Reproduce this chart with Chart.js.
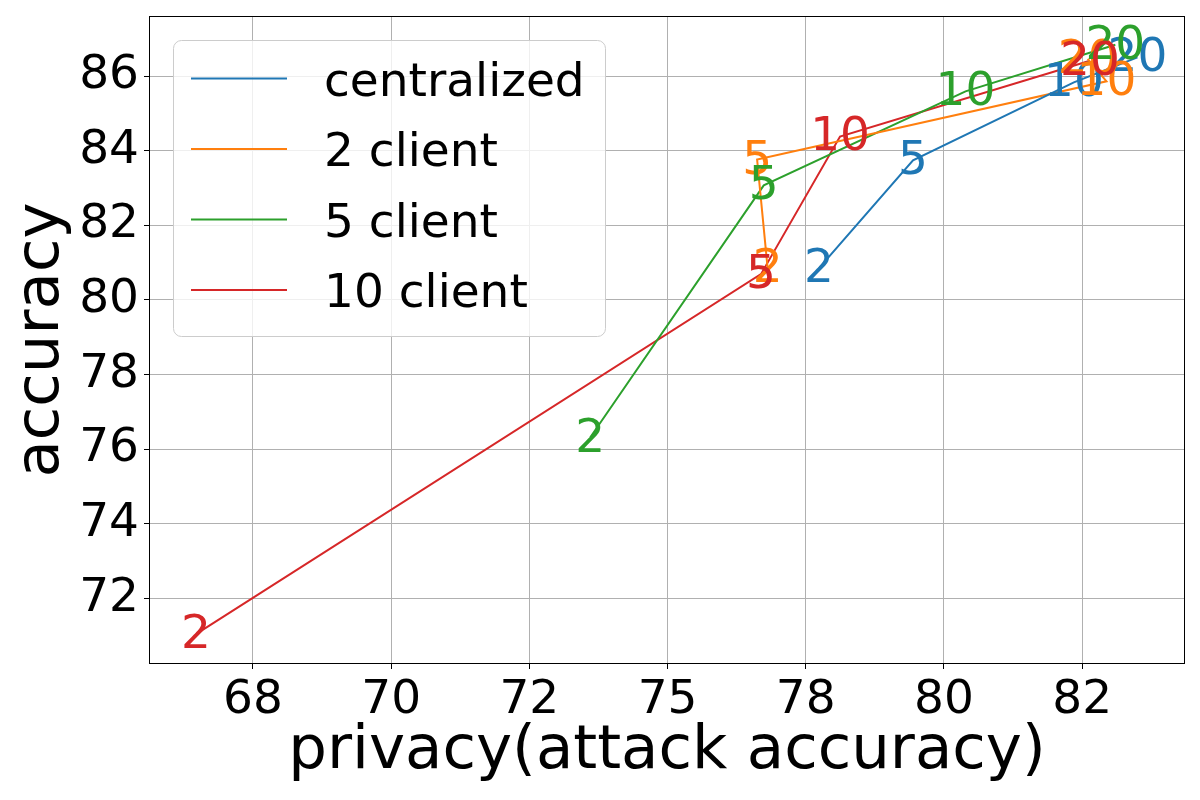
<!DOCTYPE html>
<html lang="en">
<head>
  <meta charset="UTF-8" />
  <title>Privacy vs Accuracy</title>
  <script src="https://cdn.jsdelivr.net/npm/chart.js"></script>
  <style>
    html, body { margin: 0; padding: 0; background: #ffffff; }
    .chart-box { width: 1200px; height: 800px; }
  </style>
</head>
<body>
  <div class="chart-box"><canvas id="tradeoffChart" width="1200" height="800"></canvas></div>

  <script>
    // series and labels
    const seriesNames = ['centralized', '2 client', '5 client', '10 client'];
    const seriesColors = ['#1f77b4', '#ff7f0e', '#2ca02c', '#d62728'];
    const roundLabels = ['2', '5', '10', '20'];

    const centralizedPrivacy = [77.74, 79.44, 82.35, 83.50];
    const centralizedAccuracy = [80.85, 83.74, 85.83, 86.50];
    const client2Privacy = [76.81, 76.62, 82.94, 82.60];
    const client2Accuracy = [80.85, 83.76, 85.86, 86.46];
    const client5Privacy = [73.60, 76.74, 80.39, 83.10];
    const client5Accuracy = [76.31, 83.07, 85.59, 86.84];
    const client10Privacy = [66.47, 76.69, 78.12, 82.64];
    const client10Accuracy = [71.04, 80.69, 84.38, 86.41];

    const xTicks = [67.5, 70, 72.5, 75, 77.5, 80, 82.5];
    const xTickLabels = ['68', '70', '72', '75', '78', '80', '82'];
    const yTicks = [72, 74, 76, 78, 80, 82, 84, 86];
    const yTickLabels = ['72', '74', '76', '78', '80', '82', '84', '86'];

    const FONT = "'DejaVu Sans', 'Liberation Sans', sans-serif";
    const TEXT_SIZE = 47;

    const toPoints = (xs, ys) => xs.map((x, i) => ({ x: x, y: ys[i] }));
    const allX = [centralizedPrivacy, client2Privacy, client5Privacy, client10Privacy];
    const allY = [centralizedAccuracy, client2Accuracy, client5Accuracy, client10Accuracy];

    const datasets = seriesNames.map((name, i) => ({
      label: name,
      data: toPoints(allX[i], allY[i]),
      borderColor: seriesColors[i],
      backgroundColor: seriesColors[i],
      borderWidth: 2,
      showLine: true,
      pointRadius: 0,
      pointHoverRadius: 0,
      tension: 0
    }));

    // number next to each point, drawn above all lines
    const pointLabels = {
      id: 'pointLabels',
      afterDatasetsDraw(chart) {
        const ctx = chart.ctx;
        ctx.save();
        ctx.font = TEXT_SIZE + 'px ' + FONT;
        ctx.textAlign = 'center';
        ctx.textBaseline = 'alphabetic';
        chart.data.datasets.forEach((ds, i) => {
          const meta = chart.getDatasetMeta(i);
          ctx.fillStyle = ds.borderColor;
          meta.data.forEach((pt, j) => {
            ctx.fillText(roundLabels[j], pt.x, pt.y + 14);
          });
        });
        ctx.restore();
      }
    };

    // black frame on all four sides + legend box in the upper left
    const frameAndLegend = {
      id: 'frameAndLegend',
      afterDraw(chart) {
        const ctx = chart.ctx;
        const a = chart.chartArea;
        ctx.save();
        ctx.strokeStyle = '#000000';
        ctx.lineWidth = 1;
        ctx.strokeRect(Math.round(a.left) + 0.5, Math.round(a.top) + 0.5,
          Math.round(a.right - a.left) - 1, Math.round(a.bottom - a.top) - 1);

        const bx = a.left + 24, by = a.top + 24, bw = 432, bh = 296;
        ctx.beginPath();
        ctx.roundRect(bx + 0.5, by + 0.5, bw, bh, 8);
        ctx.fillStyle = 'rgba(255, 255, 255, 0.8)';
        ctx.fill();
        ctx.strokeStyle = '#cccccc';
        ctx.lineWidth = 1;
        ctx.stroke();

        ctx.font = TEXT_SIZE + 'px ' + FONT;
        ctx.textAlign = 'left';
        ctx.textBaseline = 'alphabetic';
        chart.data.datasets.forEach((ds, i) => {
          const rowY = by + 38.5 + i * 70.5;
          ctx.strokeStyle = ds.borderColor;
          ctx.lineWidth = 2;
          ctx.beginPath();
          ctx.moveTo(bx + 18, rowY);
          ctx.lineTo(bx + 114, rowY);
          ctx.stroke();
          ctx.fillStyle = '#000000';
          ctx.fillText(ds.label, bx + 151, rowY + 17);
        });
        ctx.restore();
      }
    };

    const ctx = document.getElementById('tradeoffChart').getContext('2d');

    new Chart(ctx, {
      type: 'scatter',
      data: { datasets: datasets },
      plugins: [pointLabels, frameAndLegend],
      options: {
        responsive: false,
        animation: false,
        layout: { padding: { top: 16, right: 15, left: 0, bottom: 0 } },
        plugins: {
          legend: { display: false },
          tooltip: { enabled: false }
        },
        scales: {
          x: {
            type: 'linear',
            min: 65.62,
            max: 84.36,
            afterBuildTicks: axis => { axis.ticks = xTicks.map(v => ({ value: v })); },
            afterFit: axis => {
              axis.height = 136;
              axis.paddingLeft = 0;
              axis.paddingRight = 0;
            },
            ticks: {
              autoSkip: false,
              maxRotation: 0,
              padding: 4,
              color: '#000000',
              font: { family: FONT, size: TEXT_SIZE },
              callback: (value, index) => xTickLabels[index]
            },
            grid: { color: '#b0b0b0', lineWidth: 1, tickColor: '#000000', tickLength: 5 },
            border: { display: false },
            title: {
              display: true,
              text: 'privacy(attack accuracy)',
              color: '#000000',
              font: { family: FONT, size: 61 },
              padding: { top: 0, bottom: 11 }
            }
          },
          y: {
            type: 'linear',
            min: 70.24,
            max: 87.61,
            afterBuildTicks: axis => { axis.ticks = yTicks.map(v => ({ value: v })); },
            afterFit: axis => {
              axis.width = 149;
              axis.paddingTop = 0;
              axis.paddingBottom = 0;
            },
            ticks: {
              autoSkip: false,
              padding: 5,
              color: '#000000',
              font: { family: FONT, size: TEXT_SIZE },
              callback: (value, index) => yTickLabels[index]
            },
            grid: { color: '#b0b0b0', lineWidth: 1, tickColor: '#000000', tickLength: 5 },
            border: { display: false },
            title: {
              display: true,
              text: 'accuracy',
              color: '#000000',
              font: { family: FONT, size: 61 },
              padding: { top: 6, bottom: 0 }
            }
          }
        }
      }
    });
  </script>
</body>
</html>
